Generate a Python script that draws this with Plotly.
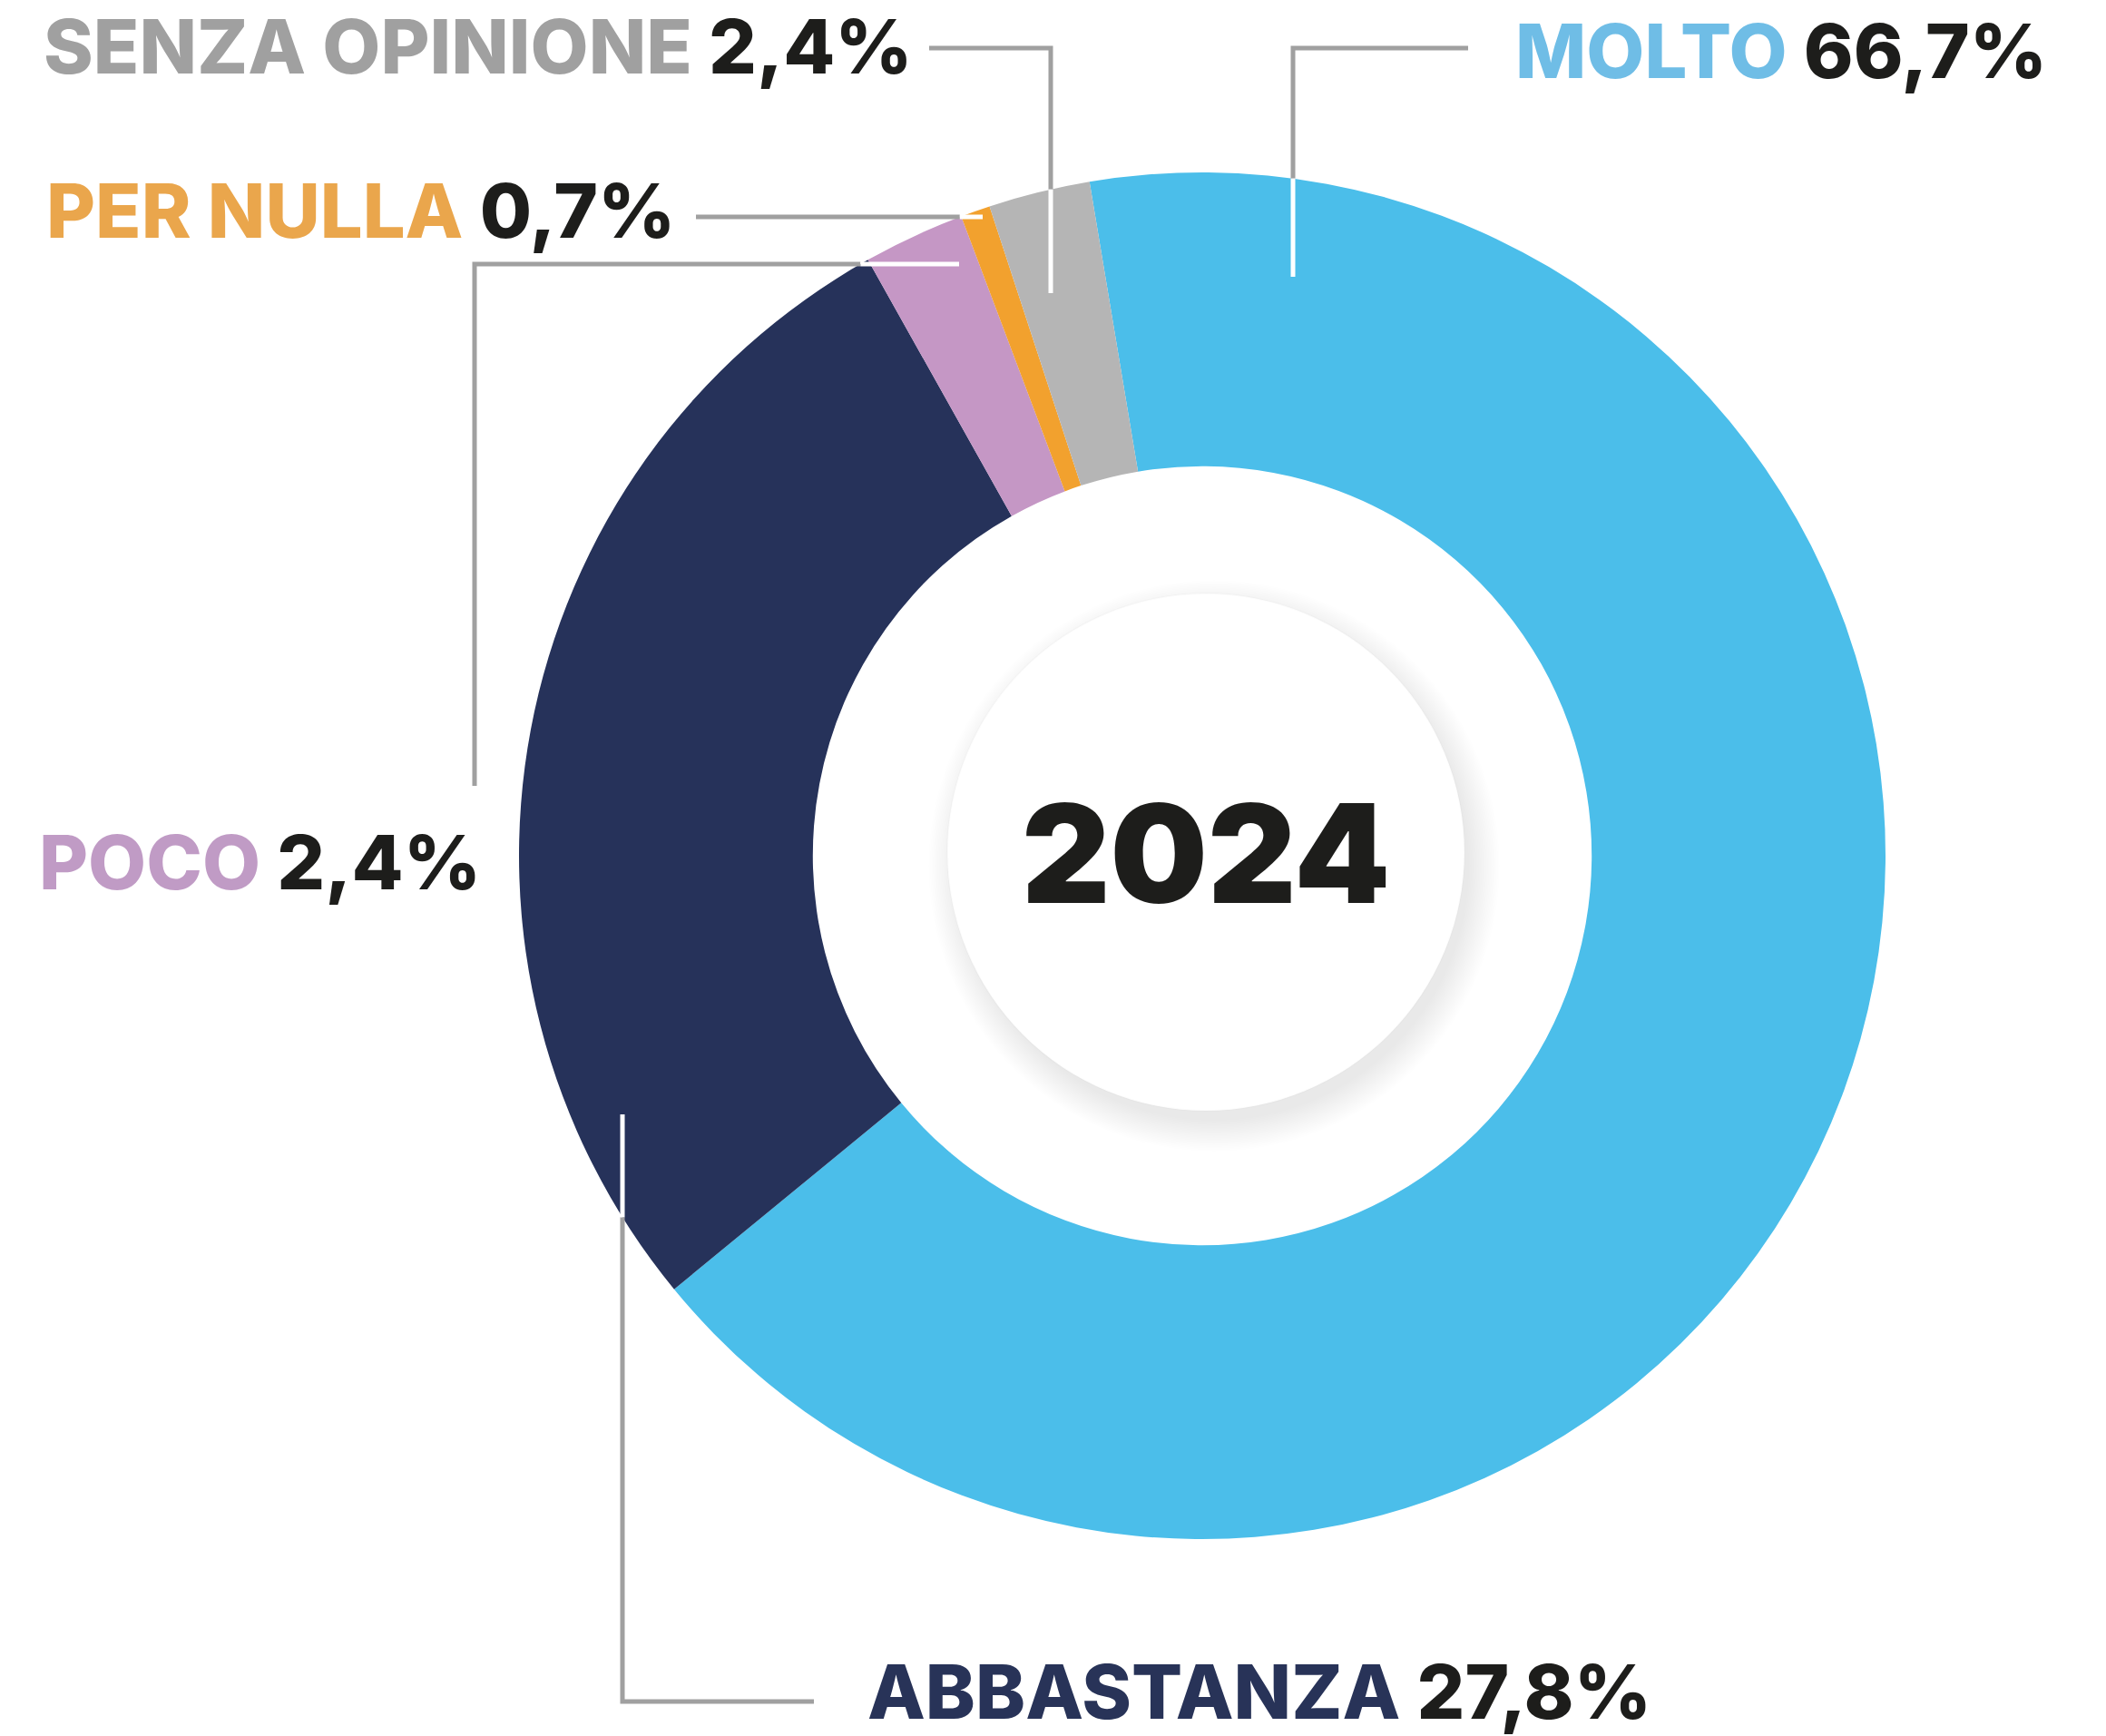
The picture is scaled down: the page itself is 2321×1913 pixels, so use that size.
import math
import plotly.graph_objects as go

# ---------------- data ----------------
categories = ["MOLTO", "ABBASTANZA", "POCO", "PER NULLA", "SENZA OPINIONE"]
values = [66.7, 27.8, 2.4, 0.7, 2.4]
value_labels = ["66,7%", "27,8%", "2,4%", "0,7%", "2,4%"]
center_label = "2024"

# ---------------- style ----------------
slice_colors = ["#4bbeea", "#26325a", "#c597c5", "#f2a12e", "#b5b5b5"]
label_colors = ["#6fbde6", "#283358", "#c09bc5", "#eaa64c", "#a0a0a0"]
W, H = 2321, 1913
CX, CY, R = 1325, 943, 753          # donut centre / outer radius (px)
HOLE = 0.57
LINE_COLOR = "#a0a0a0"
LINE_W = 5
FONT = "Inter"

def px(x):
    return x / W

def py(y):
    return 1 - y / H

fig = go.Figure()
fig.add_trace(go.Pie(
    labels=categories,
    values=values,
    marker=dict(colors=slice_colors, line=dict(width=0)),
    hole=HOLE,
    sort=False,
    direction="clockwise",
    rotation=-9.5,
    textinfo="none",
    hoverinfo="label+percent",
    showlegend=False,
    domain=dict(x=[px(CX - R), px(CX + R)], y=[py(CY + R), py(CY - R)]),
))

shapes = []

# inner white disk with soft drop shadow
DCX, DCY, DR = 1329, 939, 285
n = 22
for k in range(n):
    r = DR + 30 - k * 1.6
    ox, oy = 9, 15
    shapes.append(dict(type="circle", xref="paper", yref="paper",
                       x0=px(DCX + ox - r), x1=px(DCX + ox + r),
                       y0=py(DCY + oy + r), y1=py(DCY + oy - r),
                       fillcolor="rgba(0,0,0,0.0055)", line=dict(width=0),
                       layer="above"))
shapes.append(dict(type="circle", xref="paper", yref="paper",
                   x0=px(DCX - DR), x1=px(DCX + DR),
                   y0=py(DCY + DR), y1=py(DCY - DR),
                   fillcolor="#ffffff", line=dict(color="rgba(0,0,0,0.015)", width=2),
                   layer="above"))

# leader-line layout (px): first point lies on the ring
leaders = {
    "MOLTO": [(1425, 305), (1425, 53), (1618, 53)],
    "ABBASTANZA": [(686, 1228), (686, 1875), (897, 1875)],
    "POCO": [(1057, 291), (523, 291), (523, 866)],
    "PER NULLA": [(1083, 239), (767, 239)],
    "SENZA OPINIONE": [(1158, 323), (1158, 53), (1024, 53)],
}

def ring_exit(p0, p1):
    dx, dy = p1[0] - p0[0], p1[1] - p0[1]
    fx, fy = p0[0] - CX, p0[1] - CY
    a = dx * dx + dy * dy
    b = 2 * (fx * dx + fy * dy)
    c = fx * fx + fy * fy - R * R
    disc = max(b * b - 4 * a * c, 0)
    t = (-b + math.sqrt(disc)) / (2 * a)
    t = min(max(t, 0), 1)
    return (p0[0] + t * dx, p0[1] + t * dy)

for name, pts in leaders.items():
    q = ring_exit(pts[0], pts[1])
    gpts = [q] + pts[1:]
    path = "M " + " L ".join(f"{px(x):.6f},{py(y):.6f}" for x, y in gpts)
    shapes.append(dict(type="path", xref="paper", yref="paper", path=path,
                       line=dict(color=LINE_COLOR, width=LINE_W), layer="above"))
    shapes.append(dict(type="line", xref="paper", yref="paper",
                       x0=px(pts[0][0]), y0=py(pts[0][1]), x1=px(q[0]), y1=py(q[1]),
                       line=dict(color="#ffffff", width=LINE_W), layer="above"))

# label placement (px): x, y (cap centre), anchor
label_pos = {
    "MOLTO": (1668, 56, "left"),
    "ABBASTANZA": (954, 1864, "left"),
    "POCO": (532, 950, "right"),
    "PER NULLA": (746, 232, "right"),
    "SENZA OPINIONE": (1008, 51, "right"),
}

annotations = []
for i, name in enumerate(categories):
    x, y, anc = label_pos[name]
    txt = (f"<span style='color:{label_colors[i]}'>{name}</span>"
           f" <span style='color:#1d1d1b'>{value_labels[i]}</span>")
    annotations.append(dict(text=txt, x=px(x), y=py(y), xref="paper", yref="paper",
                            xanchor=anc, yanchor="middle", showarrow=False,
                            font=dict(family=FONT, size=83, weight=800)))

annotations.append(dict(text=center_label, x=px(1329), y=py(940), xref="paper", yref="paper",
                        xanchor="center", yanchor="middle", showarrow=False,
                        font=dict(family=FONT, size=151, weight=900, color="#1d1d1b")))

fig.update_layout(
    width=W, height=H,
    margin=dict(l=0, r=0, t=0, b=0),
    paper_bgcolor="#ffffff",
    plot_bgcolor="#ffffff",
    shapes=shapes,
    annotations=annotations,
)

fig.write_html("out.html",
               config={"displayModeBar": False},
               post_script="document.body.style.margin='0';document.body.style.overflow='hidden';")
